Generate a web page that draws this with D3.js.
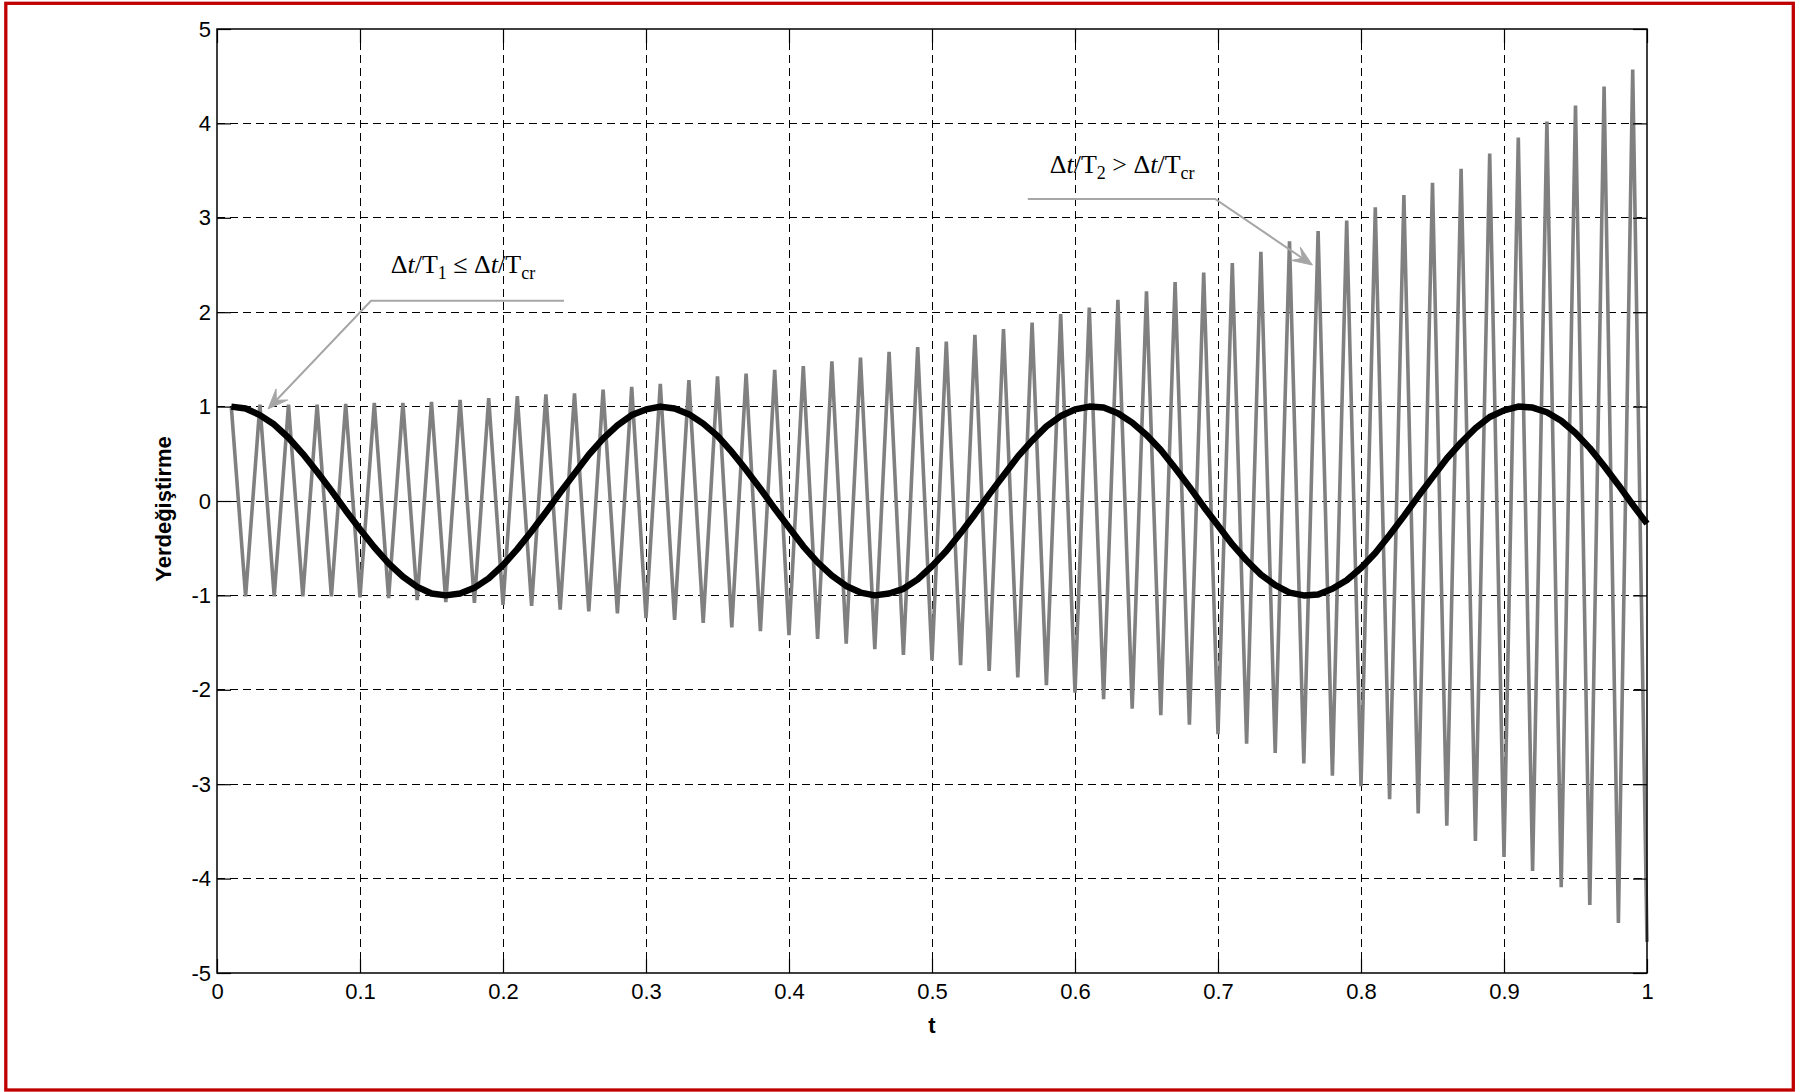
<!DOCTYPE html>
<html>
<head>
<meta charset="utf-8">
<script src="https://cdn.jsdelivr.net/npm/d3@7"></script>
<style>
body { margin: 0; background: #fff; }
</style>
</head>
<body>
<script>
// DATA
const timeStep = 0.01;
// smooth response (black), one value per step, t = 0.01 ... 1.00
const stableResponse = [
   1.00,  0.98,  0.91,  0.81,  0.67,  0.50,  0.31,  0.11, -0.10, -0.30,
  -0.49, -0.66, -0.80, -0.91, -0.98, -1.00, -0.98, -0.92, -0.82, -0.68,
  -0.51, -0.32, -0.12,  0.09,  0.29,  0.49,  0.66,  0.80,  0.91,  0.97,
   1.00,  0.98,  0.92,  0.82,  0.69,  0.52,  0.33,  0.13, -0.08, -0.28,
  -0.48, -0.65, -0.79, -0.90, -0.97, -1.00, -0.98, -0.93, -0.83, -0.69,
  -0.53, -0.34, -0.14,  0.07,  0.27,  0.47,  0.64,  0.79,  0.90,  0.97,
   1.00,  0.99,  0.93,  0.83,  0.70,  0.54,  0.35,  0.15, -0.06, -0.26,
  -0.46, -0.63, -0.78, -0.89, -0.97, -1.00, -0.99, -0.93, -0.84, -0.71,
  -0.55, -0.36, -0.16,  0.05,  0.25,  0.45,  0.62,  0.77,  0.89,  0.96,
   1.00,  0.99,  0.94,  0.85,  0.72,  0.56,  0.37,  0.17, -0.04, -0.24
];
// unstable response (grey): peaks at t = 0.01, 0.03 ... 0.99
const unstablePeaks = [
  1.00, 1.02, 1.02, 1.02, 1.03, 1.04, 1.04, 1.05, 1.07, 1.09,
  1.11, 1.13, 1.14, 1.18, 1.21, 1.24, 1.28, 1.32, 1.35, 1.39,
  1.43, 1.48, 1.52, 1.58, 1.63, 1.69, 1.76, 1.82, 1.89, 1.98,
  2.05, 2.13, 2.22, 2.32, 2.42, 2.52, 2.64, 2.75, 2.86, 2.97,
  3.11, 3.24, 3.37, 3.52, 3.68, 3.85, 4.02, 4.19, 4.39, 4.57
];
// troughs at t = 0.02, 0.04 ... 1.00
const unstableTroughs = [
  -1.01, -1.01, -1.01, -1.01, -1.02, -1.03, -1.05, -1.07, -1.08, -1.10,
  -1.11, -1.15, -1.17, -1.19, -1.24, -1.26, -1.29, -1.34, -1.38, -1.42,
  -1.46, -1.51, -1.57, -1.63, -1.69, -1.74, -1.80, -1.87, -1.95, -2.03,
  -2.10, -2.20, -2.27, -2.37, -2.47, -2.57, -2.67, -2.78, -2.91, -3.02,
  -3.16, -3.31, -3.44, -3.60, -3.77, -3.92, -4.09, -4.28, -4.47, -4.67
];
const xTicks = [0, 0.1, 0.2, 0.3, 0.4, 0.5, 0.6, 0.7, 0.8, 0.9, 1];
const yTicks = [-5, -4, -3, -2, -1, 0, 1, 2, 3, 4, 5];
const xLabel = 't';
const yLabel = 'Yerdeğiştirme';

// DEFS
const graphicWidth = 1806;
const graphicHeight = 1092;
const plot = {left: 217, top: 29, right: 1647, bottom: 973};
const tickLength = 14;
const tickFont = '22px "Liberation Sans", Arial, sans-serif';
const labelFont = 'bold 22px "Liberation Sans", Arial, sans-serif';
const noteFont = '26px "Liberation Serif", "Times New Roman", serif';
const greyColor = '#808080';
const noteColor = '#a6a6a6';
const frameColor = '#c00000';

const times = d3.range(1, stableResponse.length + 1).map(i => +(i * timeStep).toFixed(2));
const stableData = times.map((t, i) => ({t: t, v: stableResponse[i]}));
const unstableData = times.map((t, i) => ({t: t, v: i % 2 === 0 ? unstablePeaks[i / 2] : unstableTroughs[(i - 1) / 2]}));

const svg = d3.select('body').append('svg')
    .attr('width', graphicWidth)
    .attr('height', graphicHeight);

// SCALES
const x = d3.scaleLinear().domain([0, 1]).range([plot.left, plot.right]);
const y = d3.scaleLinear().domain([-5, 5]).range([plot.bottom, plot.top]);

// outer red frame
svg.append('rect')
    .attr('x', 5.8).attr('y', 3.3)
    .attr('width', 1787.5).attr('height', 1086.7)
    .attr('fill', 'white')
    .attr('stroke', frameColor)
    .attr('stroke-width', 3.3);

// GRID
const gridGroup = svg.append('g').attr('class', 'grid')
    .attr('stroke', '#000').attr('stroke-width', 1).attr('stroke-dasharray', '8,5')
    .attr('shape-rendering', 'crispEdges');
gridGroup.selectAll('.vgrid').data(xTicks.slice(1, -1)).enter().append('line')
    .attr('x1', d => x(d)).attr('x2', d => x(d))
    .attr('y1', plot.top).attr('y2', plot.bottom);
gridGroup.selectAll('.hgrid').data(yTicks.slice(1, -1)).enter().append('line')
    .attr('x1', plot.left).attr('x2', plot.right)
    .attr('y1', d => y(d)).attr('y2', d => y(d));

// LINES
const lineGen = d3.line().x(d => x(d.t)).y(d => y(d.v));

svg.append('path')
    .datum(unstableData)
    .attr('d', lineGen)
    .attr('fill', 'none')
    .attr('stroke', greyColor)
    .attr('stroke-width', 3.6);

svg.append('path')
    .datum(stableData)
    .attr('d', lineGen)
    .attr('fill', 'none')
    .attr('stroke', '#000')
    .attr('stroke-width', 6.5)
    .attr('stroke-linejoin', 'round');

// AXES (matlab style: ticks inside, on all sides)
const fmt = d => String(d);
const styleAxis = g => {
    g.select('.domain').remove();
    g.selectAll('line').attr('stroke', '#000').attr('stroke-width', 1.2);
    g.selectAll('text').style('font', tickFont).attr('fill', '#000');
};
svg.append('g').attr('transform', `translate(0, ${plot.bottom})`)
    .call(d3.axisBottom(x).tickValues(xTicks).tickFormat(fmt).tickSize(-tickLength).tickPadding(10))
    .call(styleAxis);
svg.append('g').attr('transform', `translate(0, ${plot.top})`)
    .call(d3.axisTop(x).tickValues(xTicks).tickFormat('').tickSize(-tickLength))
    .call(styleAxis);
svg.append('g').attr('transform', `translate(${plot.left}, 0)`)
    .call(d3.axisLeft(y).tickValues(yTicks).tickFormat(fmt).tickSize(-tickLength).tickPadding(6))
    .call(styleAxis);
svg.append('g').attr('transform', `translate(${plot.right}, 0)`)
    .call(d3.axisRight(y).tickValues(yTicks).tickFormat('').tickSize(-tickLength))
    .call(styleAxis);

svg.append('rect')
    .attr('x', plot.left).attr('y', plot.top)
    .attr('width', plot.right - plot.left).attr('height', plot.bottom - plot.top)
    .attr('fill', 'none').attr('stroke', '#000').attr('stroke-width', 1.5);

// AXIS LABELS
svg.append('text')
    .attr('x', x(0.5)).attr('y', 1033)
    .attr('text-anchor', 'middle')
    .style('font', labelFont)
    .text(xLabel);

svg.append('text')
    .attr('transform', `translate(171, 509) rotate(-90)`)
    .attr('text-anchor', 'middle')
    .style('font', labelFont)
    .text(yLabel);

// ANNOTATIONS
const notes = [
    {parts: [['Δ'], ['t', 'i'], ['/T'], ['1', 's'], [' ≤ Δ'], ['t', 'i'], ['/T'], ['cr', 's']],
     text: [0.172, 2.415], path: [[0.2427, 2.12], [0.1077, 2.12], [0.0357, 0.975]]},
    {parts: [['Δ'], ['t', 'i'], ['/T'], ['2', 's'], [' > Δ'], ['t', 'i'], ['/T'], ['cr', 's']],
     text: [0.633, 3.47], path: [[0.567, 3.2], [0.698, 3.2], [0.766, 2.5]]}
];

const noteGroup = svg.append('g').attr('class', 'notes');

notes.forEach(n => {
    const pts = n.path.map(p => [x(p[0]), y(p[1])]);
    const last = pts[pts.length - 1];
    const prev = pts[pts.length - 2];
    const ang = Math.atan2(last[1] - prev[1], last[0] - prev[0]);
    const headLen = 20, headHalf = 8, notch = 12;
    // stop the shaft at the notch of the head
    const shaftEnd = [last[0] - notch * Math.cos(ang), last[1] - notch * Math.sin(ang)];
    noteGroup.append('path')
        .attr('d', d3.line()(pts.slice(0, -1).concat([shaftEnd])))
        .attr('fill', 'none')
        .attr('stroke', noteColor)
        .attr('stroke-width', 2);

    const back = [last[0] - headLen * Math.cos(ang), last[1] - headLen * Math.sin(ang)];
    const wing1 = [back[0] + headHalf * Math.sin(ang), back[1] - headHalf * Math.cos(ang)];
    const wing2 = [back[0] - headHalf * Math.sin(ang), back[1] + headHalf * Math.cos(ang)];
    noteGroup.append('path')
        .attr('d', `M${last}L${wing1}L${shaftEnd}L${wing2}Z`)
        .attr('fill', noteColor)
        .attr('stroke', noteColor)
        .attr('stroke-width', 1);

    const txt = noteGroup.append('text')
        .attr('x', x(n.text[0])).attr('y', y(n.text[1]))
        .attr('text-anchor', 'middle')
        .style('font', noteFont)
        .style('white-space', 'pre')
        .attr('fill', '#000');
    let shifted = false;
    n.parts.forEach(p => {
        const span = txt.append('tspan').text(p[0]);
        if (p[1] === 'i') span.style('font-style', 'italic');
        if (p[1] === 's') {
            span.style('font-size', '18px').attr('dy', 6);
            shifted = true;
        } else if (shifted) {
            span.attr('dy', -6);
            shifted = false;
        }
    });
});
</script>
</body>
</html>
